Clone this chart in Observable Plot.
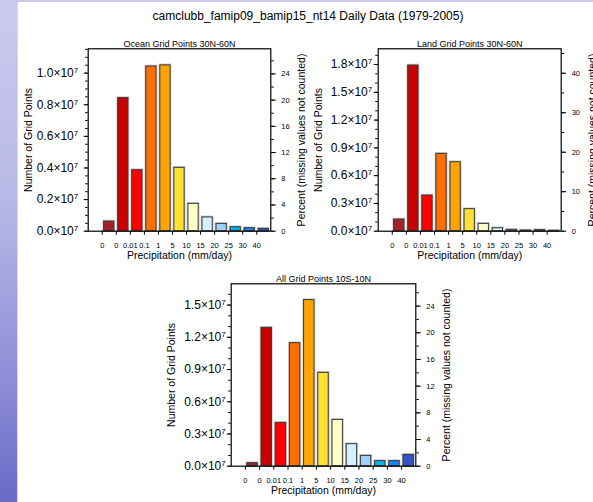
<!DOCTYPE html>
<html>
<head>
<meta charset="utf-8">
<script src="https://cdn.jsdelivr.net/npm/d3@7"></script>
<script src="https://cdn.jsdelivr.net/npm/@observablehq/plot@0.6"></script>
<style>
  html, body { margin: 0; padding: 0; background: #fff; }
  #page { position: relative; width: 593px; height: 502px; overflow: hidden; background: #fff;
          font-family: "Liberation Sans", Arial, Helvetica, sans-serif; }
  #strip { position: absolute; left: 0; top: 0; width: 17px; height: 502px;
           background: linear-gradient(to bottom, #cbcbef 0%, #b8b8e6 40%, #8e8ed8 75%, #6a6ac6 100%);
           border-right: 1px solid #d8d8e8; }
  #band { position: absolute; left: 0; top: 0; width: 593px; height: 2px; background: #c9c9ee; }
  #title { position: absolute; left: 108px; width: 400px; top: 9px; text-align: center;
           font-size: 12px; line-height: 14px; color: #000; }
  .panel { position: absolute; }
</style>
</head>
<body>
<div id="page">
  <div id="strip"></div>
  <div id="band"></div>
  <div id="title">camclubb_famip09_bamip15_nt14 Daily Data (1979-2005)</div>
</div>
<script>
// Precipitation bins: each label marks the lower edge of a bar
const binLabels = ["0", "0", "0.01", "0.1", "1", "5", "10", "15", "20", "25", "30", "40"];
const binColors = ["#a3232a", "#c80000", "#ff0000", "#ff6e00", "#ffa500", "#ffe033",
                   "#ffffc8", "#d2f0ff", "#9dcfff", "#00b2ee", "#1e80ff", "#3152c8"];

// Number of grid points per bin
const oceanCounts   = [610000, 8420000, 3860000, 10420000, 10490000, 4010000, 1730000, 870000, 460000, 250000, 190000, 150000];
const landCounts    = [1260000, 17890000, 3850000, 8350000, 7450000, 2380000, 790000, 320000, 140000, 70000, 110000, 40000];
const tropicsCounts = [280000, 12880000, 4030000, 11450000, 15460000, 8690000, 4310000, 2050000, 960000, 470000, 470000, 1050000];

const panelTitles = ["Ocean Grid Points 30N-60N", "Land Grid Points 30N-60N", "All Grid Points 10S-10N"];
const yTitle = "Number of Grid Points";
const y2Title = "Percent (missing values not counted)";
const xTitle = "Precipitation (mm/day)";

const FONT = "Liberation Sans, Arial, Helvetica, sans-serif";

function steps(max, step) {
  const n = Math.floor(max / step + 1e-6);
  return d3.range(0, n + 1).map(k => +(k * step).toFixed(6));
}

function histogram(cfg) {
  const {counts, title, yMax, major, minor, pctMajor, pctMinor, labelPad,
         width, height, marginLeft, marginRight, marginTop, marginBottom} = cfg;
  const total = d3.sum(counts);
  const rows = counts.map((v, i) => ({slot: i + 1, value: v, color: binColors[i]}));
  const pctMax = yMax / total * 100;
  const toCount = p => p / 100 * total;

  const svg = Plot.plot({
    width, height, marginLeft, marginRight, marginTop, marginBottom,
    x: {domain: [0, 13]},
    y: {domain: [0, yMax]},
    style: {fontFamily: FONT, color: "#000", background: "transparent", overflow: "visible"},
    marks: [
      // soft halo under each bar outline
      Plot.rect(rows, {x1: "slot", x2: d => d.slot + 1, y1: 0, y2: "value", insetLeft: 1.9, insetRight: 1.9,
                       fill: "color", stroke: "#9a9a9a", strokeWidth: 2.6, strokeOpacity: 0.55}),
      Plot.rect(rows, {x1: "slot", x2: d => d.slot + 1, y1: 0, y2: "value", insetLeft: 1.9, insetRight: 1.9,
                       fill: "color", stroke: "#3a3a3a", strokeWidth: 1}),
      Plot.frame({stroke: "#000", strokeWidth: 1.2}),
      // left axis: counts
      Plot.axisY(steps(yMax, minor), {anchor: "left", tickSize: 2.5, tickFormat: () => "", label: null}),
      Plot.axisY(steps(yMax, major), {anchor: "left", tickSize: 4, tickPadding: labelPad, fontSize: 12, label: null,
                                      tickFormat: d => (d / 1e7).toFixed(1) + "\u00d710"}),
      // right axis: percent of all counted points
      Plot.axisY(steps(pctMax, pctMinor).map(toCount), {anchor: "right", tickSize: 2.5, tickFormat: () => "", label: null}),
      Plot.axisY(steps(pctMax, pctMajor).map(toCount), {anchor: "right", tickSize: 4.5, tickPadding: 6, fontSize: 7.5, label: null,
                                      tickFormat: d => String(Math.round(d / total * 100))}),
      // bottom axis: bin edges
      Plot.axisX(d3.range(1, 13), {anchor: "bottom", tickSize: 4, tickPadding: 7, fontSize: 7.5, label: null,
                                   tickFormat: i => binLabels[i - 1]}),
      Plot.text([title], {text: d => d, frameAnchor: "top", dy: -8.3, fontSize: 9}),
      Plot.text([yTitle], {text: d => d, frameAnchor: "left", textAnchor: "middle", rotate: -90, dx: -59.5, fontSize: 10.5}),
      Plot.text([y2Title], {text: d => d, frameAnchor: "right", textAnchor: "middle", rotate: -90, dx: 31, fontSize: 10.5}),
      Plot.text([xTitle], {text: d => d, frameAnchor: "bottom", dy: 27.6, fontSize: 10.5})
    ]
  });

  // raise the exponent on the count labels
  svg.querySelectorAll("text").forEach(t => {
    const s = t.textContent;
    if (s.endsWith("\u00d710") && t.children.length <= 1) {
      const base = t.textContent;
      while (t.firstChild) t.removeChild(t.firstChild);
      t.appendChild(document.createTextNode(base));
      const sup = document.createElementNS("http://www.w3.org/2000/svg", "tspan");
      sup.setAttribute("dy", "-0.5em");
      sup.setAttribute("font-size", "8");
      sup.textContent = "7";
      t.appendChild(sup);
    }
  });
  return svg;
}

const page = document.getElementById("page");
function place(svg, left, top) {
  const wrap = document.createElement("div");
  wrap.className = "panel";
  wrap.style.left = left + "px";
  wrap.style.top = top + "px";
  wrap.appendChild(svg);
  page.appendChild(wrap);
}

place(histogram({
  counts: oceanCounts, title: panelTitles[0], yMax: 1.154e7, major: 0.2e7, minor: 0.05e7,
  pctMajor: 4, pctMinor: 2, labelPad: 6,
  width: 290, height: 235, marginLeft: 69.7, marginRight: 37.7, marginTop: 18.3, marginBottom: 34.3
}), 18, 30);

place(histogram({
  counts: landCounts, title: panelTitles[1], yMax: 1.97e7, major: 0.3e7, minor: 0.1e7,
  pctMajor: 10, pctMinor: 5, labelPad: 2,
  width: 283, height: 235, marginLeft: 67.7, marginRight: 32.3, marginTop: 18.3, marginBottom: 34.3
}), 310, 30);

place(histogram({
  counts: tropicsCounts, title: panelTitles[2], yMax: 1.698e7, major: 0.3e7, minor: 0.1e7,
  pctMajor: 4, pctMinor: 2, labelPad: 1.5,
  width: 310, height: 237, marginLeft: 80.7, marginRight: 44.7, marginTop: 18.3, marginBottom: 36.3
}), 150, 265);
</script>
</body>
</html>
